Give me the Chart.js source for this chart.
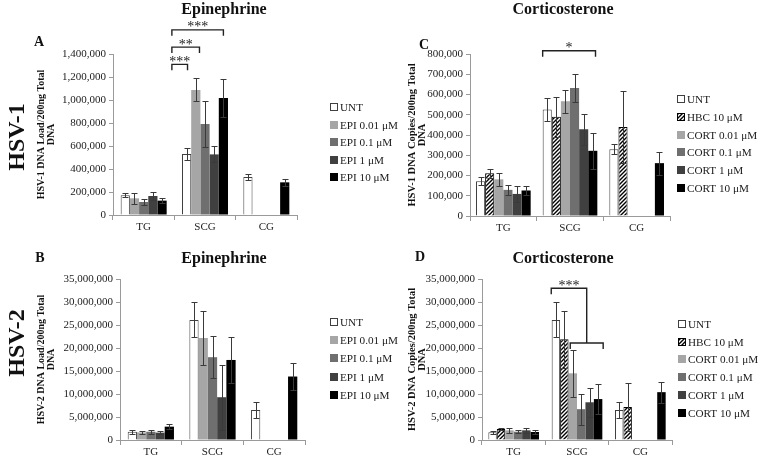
<!DOCTYPE html>
<html>
<head>
<meta charset="utf-8">
<script src="https://cdn.jsdelivr.net/npm/chart.js@4"></script>
<style>
  body { margin: 0; background: #fff; }
  #page { position: relative; width: 760px; height: 457px; overflow: hidden; background: #fff; }
  canvas { position: absolute; }
  .lbl { position: absolute; font-family: "Liberation Serif", "Times New Roman", serif; font-weight: bold; color: #111; white-space: nowrap; transform: translate(-50%, -50%); z-index: 2; }
  .title { font-size: 16px; }
  .letter { font-size: 14px; }
  .virus { font-size: 24px; transform: translate(-50%, -50%) rotate(-90deg); }
</style>
</head>
<body>
<div id="page">
  <canvas id="chartA" width="410" height="235" style="left:0;top:0"></canvas>
  <canvas id="chartB" width="410" height="222" style="left:0;top:235px"></canvas>
  <canvas id="chartC" width="380" height="235" style="left:380px;top:0"></canvas>
  <canvas id="chartD" width="380" height="222" style="left:380px;top:235px"></canvas>

  <div class="lbl title" style="left:224px;top:9px">Epinephrine</div>
  <div class="lbl title" style="left:563px;top:9px">Corticosterone</div>
  <div class="lbl title" style="left:224px;top:258px">Epinephrine</div>
  <div class="lbl title" style="left:563px;top:258px">Corticosterone</div>
  <div class="lbl letter" style="left:39px;top:42px">A</div>
  <div class="lbl letter" style="left:424px;top:45px">C</div>
  <div class="lbl letter" style="left:40px;top:258px">B</div>
  <div class="lbl letter" style="left:420px;top:257px">D</div>
  <div class="lbl virus" style="left:16px;top:137px">HSV-1</div>
  <div class="lbl virus" style="left:16px;top:343px">HSV-2</div>
</div>
<script>
const SERIF = '"Liberation Serif", "Times New Roman", serif';

const CATEGORIES = ['TG', 'SCG', 'CG'];
const EPI_LABELS = ['UNT', 'EPI 0.01 μM', 'EPI 0.1 μM', 'EPI 1 μM', 'EPI 10 μM'];
const CORT_LABELS = ['UNT', 'HBC 10 μM', 'CORT 0.01 μM', 'CORT 0.1 μM', 'CORT 1 μM', 'CORT 10 μM'];

// one row per treatment, columns TG / SCG / CG
const HSV1_EPI = [
  [171000, 530000, 330000],
  [145000, 1087000, null],
  [113000, 791000, null],
  [165000, 527000, null],
  [125000, 1017000, 284000],
];
const HSV1_EPI_ERR = [
  [17000, 55000, 28000],
  [48000, 100000, null],
  [25000, 203000, null],
  [32000, 70000, null],
  [20000, 165000, 28000],
];

const HSV1_CORT = [
  [171000, 526000, 330000],
  [211000, 490000, 439000],
  [181000, 567000, null],
  [129000, 632000, null],
  [109000, 428000, null],
  [126000, 322000, 261000],
];
const HSV1_CORT_ERR = [
  [20000, 57000, 24000],
  [21000, 98000, 176000],
  [31000, 57000, null],
  [24000, 70000, null],
  [38000, 76000, null],
  [24000, 90000, 57000],
];

const HSV2_EPI = [
  [1800000, 26100000, 6500000],
  [1650000, 22200000, null],
  [1800000, 18000000, null],
  [1600000, 9300000, null],
  [2900000, 17400000, 13800000],
];
const HSV2_EPI_ERR = [
  [400000, 3800000, 1700000],
  [300000, 5800000, null],
  [400000, 4600000, null],
  [300000, 7100000, null],
  [600000, 5100000, 3000000],
];

const HSV2_CORT = [
  [1670000, 26100000, 6500000],
  [2400000, 21900000, 7200000],
  [2100000, 14500000, null],
  [1800000, 6700000, null],
  [2100000, 8200000, null],
  [1740000, 8900000, 10400000],
];
const HSV2_CORT_ERR = [
  [300000, 3800000, 1700000],
  [200000, 6200000, 5300000],
  [500000, 5100000, null],
  [300000, 3400000, null],
  [500000, 3200000, null],
  [400000, 3200000, 2300000],
];

function makeHatch() {
  const c = document.createElement('canvas');
  c.width = 4; c.height = 4;
  const g = c.getContext('2d');
  g.fillStyle = '#fff';
  g.fillRect(0, 0, 4, 4);
  g.strokeStyle = '#000';
  g.lineWidth = 1.4;
  g.beginPath();
  g.moveTo(0, 4); g.lineTo(4, 0);
  g.moveTo(-1, 1); g.lineTo(1, -1);
  g.moveTo(3, 5); g.lineTo(5, 3);
  g.stroke();
  return g.createPattern(c, 'repeat');
}
const HATCH = makeHatch();

const EPI_STYLE = [
  { fill: '#ffffff', border: '#404040', bw: 1 },
  { fill: '#a6a6a6', border: '#a6a6a6', bw: 0 },
  { fill: '#6f6f6f', border: '#6f6f6f', bw: 0 },
  { fill: '#404040', border: '#404040', bw: 0 },
  { fill: '#000000', border: '#000000', bw: 0 },
];
const CORT_STYLE = [
  { fill: '#ffffff', border: '#404040', bw: 1 },
  { fill: HATCH, border: '#000000', bw: 1 },
  { fill: '#a6a6a6', border: '#a6a6a6', bw: 0 },
  { fill: '#6f6f6f', border: '#6f6f6f', bw: 0 },
  { fill: '#404040', border: '#404040', bw: 0 },
  { fill: '#000000', border: '#000000', bw: 0 },
];

function buildSets(labels, values, errors, styles) {
  return labels.map((label, i) => ({
    label: label,
    data: values[i],
    errors: errors[i],
    backgroundColor: styles[i].fill,
    borderColor: styles[i].border,
    borderWidth: styles[i].bw,
    legendBorder: styles[i].bw ? styles[i].border : null,
  }));
}

const errorBars = {
  id: 'errorBars',
  afterDatasetsDraw(chart) {
    const ctx = chart.ctx, ys = chart.scales.y;
    ctx.save();
    ctx.strokeStyle = '#3a3a3a';
    ctx.lineWidth = 1;
    chart.data.datasets.forEach((ds, i) => {
      chart.getDatasetMeta(i).data.forEach((bar, j) => {
        const v = ds.data[j], e = ds.errors[j];
        if (v == null || e == null) return;
        const x = Math.round(bar.x) + 0.5;
        const top = Math.round(ys.getPixelForValue(v + e)) + 0.5;
        const bot = Math.round(ys.getPixelForValue(Math.max(v - e, 0))) + 0.5;
        ctx.beginPath();
        ctx.moveTo(x, top); ctx.lineTo(x, bot);
        ctx.moveTo(x - 3, top); ctx.lineTo(x + 3, top);
        ctx.moveTo(x - 3, bot); ctx.lineTo(x + 3, bot);
        ctx.stroke();
      });
    });
    ctx.restore();
  }
};

// significance brackets over the SCG group; x given as [dataset, offset in bar widths]
function brackets(list) {
  return {
    id: 'brackets',
    afterDraw(chart) {
      const ctx = chart.ctx, ys = chart.scales.y;
      const bx = ([ds, k]) => {
        const b = chart.getDatasetMeta(ds).data[1];
        return b.x + k * b.width;
      };
      ctx.save();
      ctx.strokeStyle = '#222';
      ctx.fillStyle = '#222';
      ctx.lineWidth = 1.4;
      ctx.font = '14px ' + SERIF;
      ctx.textAlign = 'center';
      ctx.textBaseline = 'alphabetic';
      list.forEach(b => {
        const y = ys.getPixelForValue(b.at);
        const x1 = bx(b.from);
        let x2;
        ctx.beginPath();
        if (b.sub) {
          const s1 = bx(b.sub.from), s2 = bx(b.sub.to);
          const sy = ys.getPixelForValue(b.sub.at);
          x2 = (s1 + s2) / 2;
          ctx.moveTo(x1, y + 6); ctx.lineTo(x1, y); ctx.lineTo(x2, y); ctx.lineTo(x2, sy);
          ctx.moveTo(s1, sy + 6); ctx.lineTo(s1, sy); ctx.lineTo(s2, sy); ctx.lineTo(s2, sy + 6);
        } else {
          x2 = bx(b.to);
          ctx.moveTo(x1, y + 6); ctx.lineTo(x1, y); ctx.lineTo(x2, y); ctx.lineTo(x2, y + 6);
        }
        ctx.stroke();
        ctx.fillText(b.text, (x1 + x2) / 2, y + 1.5);
      });
      ctx.restore();
    }
  };
}

function sideLegend(pos) {
  return {
    id: 'sideLegend',
    afterDraw(chart) {
      const ctx = chart.ctx;
      ctx.save();
      ctx.font = pos.size + 'px ' + SERIF;
      ctx.textBaseline = 'middle';
      ctx.textAlign = 'left';
      chart.data.datasets.forEach((ds, i) => {
        const cy = Math.round(pos.y + i * pos.step);
        ctx.fillStyle = ds.backgroundColor;
        ctx.fillRect(pos.x, cy - 4, 8, 8);
        if (ds.legendBorder) {
          ctx.strokeStyle = ds.legendBorder;
          ctx.lineWidth = 1;
          ctx.strokeRect(pos.x + 0.5, cy - 3.5, 7, 7);
        }
        ctx.fillStyle = '#1a1a1a';
        ctx.fillText(ds.label, pos.x + 10, cy + 1);
      });
      ctx.restore();
    }
  };
}

function panel(id, o) {
  const tickFont = { family: SERIF, size: o.tickSize };
  return new Chart(document.getElementById(id), {
    type: 'bar',
    data: { labels: CATEGORIES, datasets: buildSets(o.labels, o.values, o.errors, o.styles) },
    options: {
      responsive: false,
      animation: false,
      layout: { padding: o.pad },
      datasets: { bar: { categoryPercentage: o.catPct, barPercentage: 1 } },
      plugins: { legend: { display: false }, tooltip: { enabled: false } },
      scales: {
        x: {
          grid: { drawOnChartArea: false, tickLength: 5, color: '#9a9a9a', offset: true },
          border: { color: '#9a9a9a' },
          ticks: { font: tickFont, color: '#222', padding: 1, maxRotation: 0 },
          afterFit(s) { s.height = o.xHeight; }
        },
        y: {
          min: 0,
          max: o.max,
          grid: { drawOnChartArea: false, tickLength: 4, color: '#9a9a9a' },
          border: { color: '#9a9a9a' },
          ticks: {
            stepSize: o.step,
            font: tickFont,
            color: '#222',
            padding: 3,
            callback: v => v.toLocaleString('en-US')
          },
          title: {
            display: true,
            text: o.yTitle,
            color: '#111',
            font: { family: SERIF, size: o.titleSize, weight: 'bold', lineHeight: 1 },
            padding: { top: o.titlePad, bottom: 0 }
          },
          afterFit(s) { s.width = o.yWidth; }
        }
      }
    },
    plugins: [errorBars, brackets(o.brackets), sideLegend(o.legend)]
  });
}

panel('chartA', {
  labels: EPI_LABELS, values: HSV1_EPI, errors: HSV1_EPI_ERR, styles: EPI_STYLE,
  max: 1400000, step: 200000, catPct: 0.75, tickSize: 11,
  yTitle: ['HSV-1 DNA Load/200ng Total', 'DNA'], titleSize: 10, titlePad: 6.5,
  pad: { left: 30, right: 113, top: 54, bottom: 0 }, yWidth: 83, xHeight: 20,
  legend: { x: 330, y: 107, step: 17.5, size: 11.2 },
  brackets: [
    { from: [0, -1.6], to: [1, -0.9], at: 1310000, text: '***' },
    { from: [0, -1.6], to: [2, -0.6], at: 1460000, text: '**' },
    { from: [0, -1.6], to: [4, 0], at: 1610000, text: '***' },
  ]
});

panel('chartB', {
  labels: EPI_LABELS, values: HSV2_EPI, errors: HSV2_EPI_ERR, styles: EPI_STYLE,
  max: 35000000, step: 5000000, catPct: 0.75, tickSize: 11,
  yTitle: ['HSV-2 DNA Load/200ng Total', 'DNA'], titleSize: 10, titlePad: 6.5,
  pad: { left: 30, right: 105, top: 44, bottom: 0 }, yWidth: 90, xHeight: 17,
  legend: { x: 330, y: 87, step: 18.2, size: 11.2 },
  brackets: []
});

panel('chartC', {
  labels: CORT_LABELS, values: HSV1_CORT, errors: HSV1_CORT_ERR, styles: CORT_STYLE,
  max: 800000, step: 100000, catPct: 0.82, tickSize: 11,
  yTitle: ['HSV-1 DNA Copies/200ng Total', 'DNA'], titleSize: 10.5, titlePad: 6.7,
  pad: { left: 20, right: 90, top: 54, bottom: 0 }, yWidth: 70, xHeight: 19,
  legend: { x: 297, y: 99, step: 17.8, size: 11.2 },
  brackets: [
    { from: [0, -0.5], to: [5, 0.3], at: 816000, text: '*' },
  ]
});

panel('chartD', {
  labels: CORT_LABELS, values: HSV2_CORT, errors: HSV2_CORT_ERR, styles: CORT_STYLE,
  max: 35000000, step: 5000000, catPct: 0.8, tickSize: 11,
  yTitle: ['HSV-2 DNA Copies/200ng Total', 'DNA'], titleSize: 10.5, titlePad: 6.7,
  pad: { left: 20, right: 88, top: 44, bottom: 0 }, yWidth: 82, xHeight: 17,
  legend: { x: 298, y: 89, step: 17.7, size: 11.2 },
  brackets: [
    { from: [0, -0.55], at: 33000000, text: '***',
      sub: { from: [2, -0.3], to: [5, 0.6], at: 21100000 } },
  ]
});
</script>
</body>
</html>
